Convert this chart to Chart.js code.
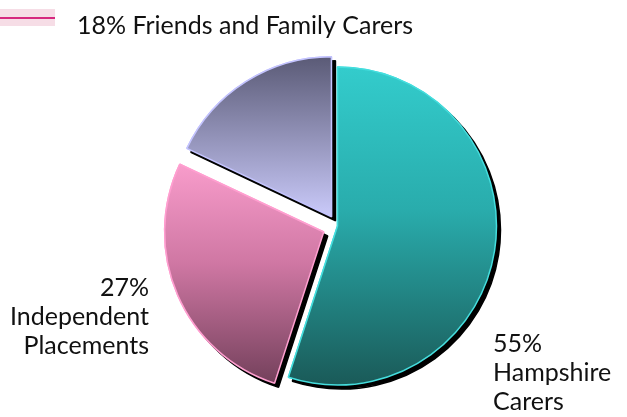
<!DOCTYPE html>
<html>
<head>
<title>Carers pie</title>
<script src="https://cdn.jsdelivr.net/npm/chart.js"></script>
<style>
    body { margin: 0; background: #fff; }
    #wrap { width: 627px; height: 417px; position: relative; }
</style>
</head>
<body>
<div id="wrap"><canvas id="pie"></canvas></div>
<script>
    const categories = ['Hampshire Carers', 'Independent Placements', 'Friends and Family Carers'];
    const shares = [55, 27, 18];
    // how the category names are broken over lines next to the pie
    const nameLines = [['Hampshire', 'Carers'], ['Independent', 'Placements'], ['Friends and Family Carers']];

    const edgeColors = ['#45dede', '#ff9fd0', '#c4c4ff'];
    const gradStops = [
        [[0, '#33cccc'], [0.45, '#29acac'], [1, '#1a5a58']],
        [[0.28, '#f99dcc'], [0.6, '#cf77a3'], [1, '#6e3d57']],
        [[0, '#5b5b77'], [0.5, '#cacafa']]
    ];
    const R = 159;
    const FONT = '25px Lato';

    function sliceFill(c) {
        const chart = c.chart;
        const a = chart.chartArea;
        const stops = gradStops[c.dataIndex];
        if (!a) return stops[0][1];
        const cy = (a.top + a.bottom) / 2;
        const g = chart.ctx.createLinearGradient(0, cy - R, 0, cy + R);
        stops.forEach(s => g.addColorStop(s[0], s[1]));
        return g;
    }

    // black drop shadow painted behind the slices
    const dropShadow = {
        id: 'dropShadow',
        afterDatasetsDraw(chart) {
            const ctx = chart.ctx;
            ctx.save();
            ctx.globalCompositeOperation = 'destination-over';
            ctx.shadowColor = '#000';
            ctx.shadowOffsetX = 4;
            ctx.shadowOffsetY = 4;
            ctx.shadowBlur = 0;
            chart.getDatasetMeta(0).data.forEach(el => el.draw(ctx));
            ctx.restore();
        }
    };

    const sliceLabels = {
        id: 'sliceLabels',
        afterDraw(chart) {
            const ctx = chart.ctx;
            ctx.save();
            ctx.font = FONT;
            ctx.textBaseline = 'alphabetic';

            // legend-like key for the small slice
            ctx.fillStyle = '#f6dde6';
            ctx.fillRect(0, 9, 55, 17);
            ctx.strokeStyle = '#d6287f';
            ctx.lineWidth = 2;
            ctx.beginPath();
            ctx.moveTo(0, 18);
            ctx.lineTo(55, 18);
            ctx.stroke();
            ctx.fillStyle = '#111';
            ctx.textAlign = 'left';
            ctx.fillText(shares[2] + '% ' + nameLines[2][0], 77, 34);

            // Independent Placements, right aligned on the left
            ctx.textAlign = 'right';
            [shares[1] + '%'].concat(nameLines[1]).forEach((t, i) => ctx.fillText(t, 149, 296 + i * 29));

            // Hampshire Carers, bottom right
            ctx.textAlign = 'left';
            [shares[0] + '%'].concat(nameLines[0]).forEach((t, i) => ctx.fillText(t, 493, 352 + i * 29));
            ctx.restore();
        }
    };

    new Chart(document.getElementById('pie'), {
        type: 'pie',
        data: {
            labels: categories,
            datasets: [{
                data: shares,
                backgroundColor: sliceFill,
                borderColor: edgeColors,
                borderWidth: 1.5,
                offset: [0, 60, 44],
                hoverOffset: 0
            }]
        },
        options: {
            responsive: true,
            maintainAspectRatio: false,
            animation: false,
            radius: R,
            layout: { padding: { left: 123, right: 75, top: 50, bottom: 15 } },
            plugins: {
                legend: { display: false },
                tooltip: { enabled: false }
            }
        },
        plugins: [dropShadow, sliceLabels]
    });
</script>
</body>
</html>
